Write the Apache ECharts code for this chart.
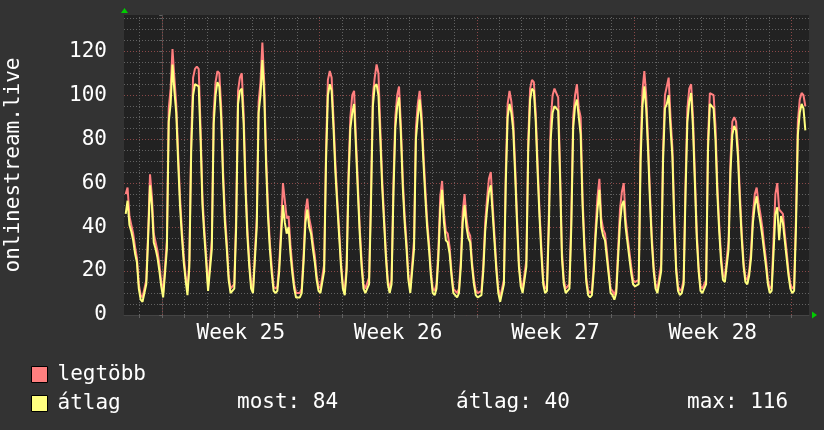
<!DOCTYPE html>
<html>
<head>
<meta charset="utf-8">
<script src="https://cdn.jsdelivr.net/npm/echarts@6/dist/echarts.min.js"></script>
<style>
html, body { margin: 0; padding: 0; background: #333333; }
#main { width: 824px; height: 430px; }
</style>
</head>
<body>
<div id="main"></div>
<script>
// hours counted from monday 00:00 of week 25, one sample every 2 hours
var startHour = -39;
var stepHours = 2;
var viewStart = -40.8;
var viewEnd = 690.9;

var seriesNames = ['legtöbb', 'átlag'];
var weekLabels = ['Week 25', 'Week 26', 'Week 27', 'Week 28'];
var weekCenters = [84, 252, 420, 588];
var statLabels = ['most: 84', 'átlag: 40', 'max: 116'];

// átlag (yellow)
var avgVals = [
  46, 52, 41, 38, 34, 28, 24, 12,                      // sat (from 9h)
  7, 6, 6, 14, 35, 59, 50, 33, 30, 26, 20, 13,          // sun
  8, 8, 30, 88, 96, 114, 102, 92, 70, 50, 36, 24,       // w25 mon
  16, 9, 22, 75, 100, 105, 105, 104, 80, 50, 36, 24,
  11, 11, 30, 87, 100, 106, 104, 90, 62, 42, 30, 16,
  10, 10, 12, 40, 96, 102, 103, 87, 57, 36, 22, 12,
  10, 10, 40, 92, 100, 116, 100, 68, 45, 30, 19, 11,
  10, 11, 20, 36, 50, 42, 37, 40, 28, 19, 12, 8,
  8, 8, 10, 24, 42, 48, 40, 37, 30, 24, 16, 11,
  10, 10, 20, 70, 100, 105, 102, 85, 65, 50, 36, 22,    // w26 mon
  12, 9, 20, 60, 85, 92, 96, 76, 56, 37, 22, 12,
  10, 10, 14, 50, 95, 104, 105, 100, 80, 58, 42, 26,
  14, 10, 14, 55, 85, 95, 99, 82, 58, 42, 30, 16,
  10, 10, 30, 80, 90, 98, 88, 70, 54, 40, 30, 18,
  10, 9, 12, 26, 48, 57, 42, 34, 33, 28, 18, 10,
  9, 8, 10, 22, 42, 50, 40, 35, 33, 22, 14, 9,
  8, 8, 9, 20, 38, 48, 56, 59, 46, 33, 20, 10,          // w27 mon
  6, 6, 14, 60, 90, 96, 92, 84, 64, 42, 22, 13,
  10, 10, 22, 75, 98, 103, 102, 88, 65, 45, 28, 14,
  10, 11, 40, 80, 92, 95, 94, 93, 62, 26, 14, 10,
  10, 12, 40, 85, 95, 98, 90, 82, 50, 30, 15, 9,
  8, 9, 20, 36, 48, 57, 40, 36, 34, 26, 18, 10,
  9, 7, 10, 26, 42, 50, 52, 40, 33, 26, 19, 14,
  13, 13, 14, 70, 95, 104, 94, 75, 52, 33, 20, 12,      // w28 mon
  10, 10, 20, 70, 94, 96, 100, 85, 72, 42, 20, 11,
  9, 10, 14, 55, 88, 97, 101, 85, 60, 35, 20, 11,
  10, 10, 14, 75, 96, 95, 94, 80, 55, 38, 24, 16,
  15, 15, 30, 65, 82, 86, 84, 72, 52, 35, 22, 15,
  14, 18, 26, 42, 50, 54, 47, 42, 36, 29, 22, 14,
  10, 11, 28, 46, 49, 34, 45, 42, 34, 26, 18, 12,
  10, 11, 40, 82, 92, 96, 94, 84                        // w29 mon (to 15h)
];

// legtöbb (red)
var maxVals = [
  55, 58, 45, 41, 37, 31, 26, 14,
  9, 8, 8, 16, 38, 64, 54, 37, 33, 29, 23, 15,
  10, 10, 34, 94, 103, 121, 108, 96, 74, 54, 39, 27,
  18, 11, 25, 80, 108, 112, 113, 112, 85, 54, 39, 27,
  13, 13, 34, 92, 106, 111, 110, 95, 66, 46, 33, 18,
  12, 12, 14, 45, 102, 108, 110, 92, 61, 39, 25, 14,
  12, 12, 44, 97, 106, 124, 106, 73, 49, 33, 22, 13,
  12, 13, 23, 40, 60, 52, 44, 45, 32, 22, 14, 10,
  10, 10, 12, 27, 47, 53, 44, 40, 33, 27, 18, 13,
  12, 12, 23, 75, 107, 111, 108, 89, 69, 53, 39, 24,
  14, 11, 23, 65, 90, 100, 102, 80, 60, 40, 25, 14,
  12, 12, 17, 55, 100, 108, 114, 110, 85, 62, 45, 28,
  16, 12, 16, 60, 90, 100, 104, 86, 62, 45, 33, 18,
  12, 12, 34, 85, 96, 102, 92, 74, 58, 43, 33, 20,
  12, 11, 14, 30, 54, 61, 46, 38, 37, 31, 20, 12,
  11, 10, 12, 25, 47, 55, 44, 38, 36, 24, 16, 11,
  10, 10, 11, 23, 42, 53, 62, 65, 50, 36, 22, 12,
  8, 8, 16, 65, 96, 102, 97, 88, 68, 45, 24, 15,
  12, 12, 25, 80, 103, 107, 106, 92, 69, 48, 31, 16,
  12, 13, 45, 88, 100, 103, 101, 99, 66, 29, 16, 12,
  12, 14, 45, 90, 100, 105, 94, 90, 54, 33, 17, 11,
  10, 11, 23, 40, 54, 62, 44, 39, 37, 29, 20, 12,
  11, 9, 12, 30, 48, 56, 60, 44, 36, 29, 22, 16,
  15, 15, 16, 76, 102, 111, 100, 79, 56, 36, 22, 14,
  12, 12, 23, 75, 100, 104, 108, 90, 76, 45, 22, 13,
  11, 12, 16, 60, 94, 103, 105, 90, 64, 38, 22, 13,
  12, 12, 16, 80, 101, 101, 100, 86, 59, 41, 27, 18,
  17, 17, 34, 70, 88, 90, 88, 76, 56, 38, 24, 17,
  16, 20, 29, 46, 55, 58, 51, 46, 40, 32, 25, 16,
  12, 13, 34, 55, 60, 48, 48, 46, 37, 29, 20, 14,
  12, 13, 45, 88, 98, 101, 100, 95
];

var font = '"DejaVu Sans Mono", monospace';
var minorGrid = '#626262';
var majorGrid = '#8a4848';

function toPairs(vals) {
  return vals.map(function (v, i) { return [startHour + i * stepHours, v]; });
}

// day / week grid lines
var dayLines = [];
for (var h = -24; h <= 672; h += 24) {
  dayLines.push({
    xAxis: h,
    lineStyle: { color: h % 168 === 0 ? majorGrid : minorGrid, type: [1, 2], width: 1 }
  });
}

var chart = echarts.init(document.getElementById('main'));
var option = {
  animation: false,
  backgroundColor: '#333333',
  textStyle: { fontFamily: font },
  grid: {
    left: 124, top: 15, width: 685, height: 300,
    outerBoundsMode: 'none',
    show: true, backgroundColor: '#222222', borderWidth: 0
  },
  legend: {
    data: seriesNames,
    orient: 'vertical',
    left: 31, top: 364,
    padding: 0,
    icon: 'rect',
    itemWidth: 16, itemHeight: 16, itemGap: 8,
    selectedMode: false,
    itemStyle: { borderColor: '#000', borderWidth: 1 },
    textStyle: { color: '#ffffff', fontSize: 21, fontFamily: font, padding: [0, 0, 0, 5] }
  },
  xAxis: {
    type: 'value',
    min: viewStart, max: viewEnd,
    splitLine: { show: false },
    axisLine: { lineStyle: { color: '#444444' } },
    axisTick: {
      show: true, length: 3,
      customValues: dayLines.map(function (d) { return d.xAxis; }),
      lineStyle: { color: minorGrid }
    },
    axisLabel: {
      customValues: weekCenters,
      margin: 8,
      color: '#ffffff', fontSize: 21, fontFamily: font,
      formatter: function (v) { return weekLabels[weekCenters.indexOf(v)] || ''; }
    }
  },
  yAxis: {
    type: 'value',
    min: 0, max: 136.5, interval: 5,
    name: 'onlinestream.live',
    nameLocation: 'middle',
    nameRotate: 90,
    nameGap: 100,
    nameTextStyle: { color: '#ffffff', fontSize: 21, fontFamily: font },
    axisLine: { show: true, lineStyle: { color: '#444444' } },
    axisTick: { show: true, length: 3, lineStyle: { color: minorGrid } },
    axisLabel: {
      margin: 17,
      padding: [4, 0, 0, 0],
      color: '#ffffff', fontSize: 21, fontFamily: font,
      formatter: function (v) { return v % 20 === 0 ? String(v) : ''; }
    },
    splitLine: {
      show: true, showMaxLine: false,
      lineStyle: { color: [majorGrid, minorGrid, minorGrid, minorGrid], type: [1, 2], width: 1 }
    }
  },
  series: [
    {
      name: seriesNames[0],
      type: 'line',
      data: toPairs(maxVals),
      symbol: 'none',
      z: 2,
      itemStyle: { color: '#ff7f7f' },
      lineStyle: { color: '#ff7f7f', width: 2 },
      markLine: {
        silent: true, z: 1,
        symbol: ['none', 'none'],
        label: { show: false },
        data: dayLines
      }
    },
    {
      name: seriesNames[1],
      type: 'line',
      data: toPairs(avgVals),
      symbol: 'none',
      z: 3,
      itemStyle: { color: '#ffff7f' },
      lineStyle: { color: '#ffff7f', width: 2 }
    }
  ],
  graphic: [
    { type: 'polygon', shape: { points: [[121, 13], [128, 13], [124.5, 8]] }, style: { fill: '#00cc00' } },
    { type: 'polygon', shape: { points: [[812, 311.5], [812, 318.5], [817, 315]] }, style: { fill: '#00cc00' } },
    { type: 'text', x: 237, y: 403, style: { text: statLabels[0], fill: '#ffffff', font: '21px ' + font, verticalAlign: 'middle' } },
    { type: 'text', x: 456, y: 403, style: { text: statLabels[1], fill: '#ffffff', font: '21px ' + font, verticalAlign: 'middle' } },
    { type: 'text', x: 687, y: 403, style: { text: statLabels[2], fill: '#ffffff', font: '21px ' + font, verticalAlign: 'middle' } }
  ]
};
chart.setOption(option);
</script>
</body>
</html>
